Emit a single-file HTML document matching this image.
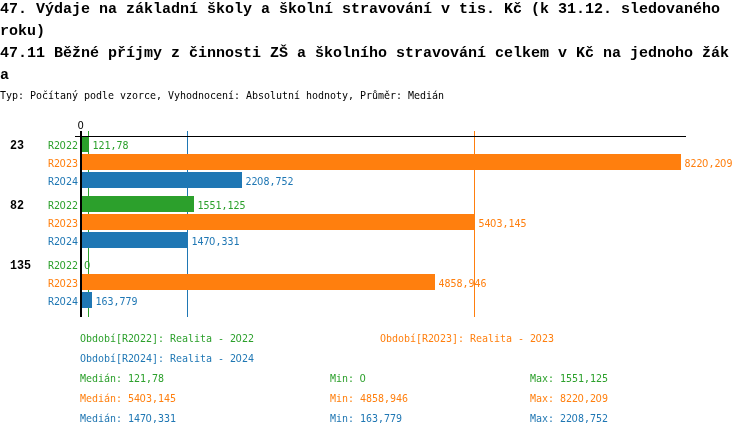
<!DOCTYPE html>
<html lang="cs"><head><meta charset="utf-8"><title>47.11</title>
<style>
html,body{margin:0;padding:0;background:#fff;}
body{width:750px;height:436px;position:relative;overflow:hidden;}
.a{position:absolute;}
.t{position:absolute;left:0;white-space:pre;font:bold 15px/22px "Liberation Mono","DejaVu Sans Mono",monospace;color:#000;letter-spacing:0;}

.s{position:absolute;white-space:pre;font:10px/12px "DejaVu Sans Mono","Liberation Mono",monospace;letter-spacing:-0.02px;transform:scaleY(1.1);transform-origin:0 0;}

.b{position:absolute;white-space:pre;font:bold 11.67px/12px "Liberation Mono","DejaVu Sans Mono",monospace;color:#000;transform:scaleY(1.04);transform-origin:0 0;}
.z{font-family:"DejaVu Sans","Liberation Sans",sans-serif;margin:0 0.279px 0 -0.621px}
.g{color:#2ca02c}.o{color:#ff7f0e}.u{color:#1f77b4}
.bg{background:#2ca02c}.bo{background:#ff7f0e}.bu{background:#1f77b4}
</style></head><body>

<div class="t" style="top:-1px">47. Výdaje na základní školy a školní stravování v tis. Kč (k 31.12. sledovaného</div>
<div class="t" style="top:21px">roku)</div>
<div class="t" style="top:43px">47.11 Běžné příjmy z činnosti ZŠ a školního stravování celkem v Kč na jednoho žák</div>
<div class="t" style="top:65px">a</div>
<div class="s " style="left:0px;top:89.0px">Typ: Počítaný podle vzorce, Vyhodnocení: Absolutní hodnoty, Průměr: Medián</div>
<div class="s " style="left:78px;top:119.0px"><span class="z">0</span></div>
<div class="a bg" style="left:88px;top:131px;width:1px;height:186px"></div>
<div class="a bu" style="left:187px;top:131px;width:1px;height:186px"></div>
<div class="a bo" style="left:474px;top:131px;width:1px;height:186px"></div>
<div class="b" style="left:10px;top:140.0px">23</div>
<div class="a bg" style="left:80px;top:136px;width:9px;height:16px"></div>
<div class="s g" style="right:672px;top:139.0px">R2<span class="z">0</span>22</div>
<div class="s g" style="left:92.5px;top:139.0px">121,78</div>
<div class="a bo" style="left:80px;top:154px;width:601px;height:16px"></div>
<div class="s o" style="right:672px;top:157.0px">R2<span class="z">0</span>23</div>
<div class="s o" style="left:684.5px;top:157.0px">822<span class="z">0</span>,2<span class="z">0</span>9</div>
<div class="a bu" style="left:80px;top:172px;width:162px;height:16px"></div>
<div class="s u" style="right:672px;top:175.0px">R2<span class="z">0</span>24</div>
<div class="s u" style="left:245.5px;top:175.0px">22<span class="z">0</span>8,752</div>
<div class="b" style="left:10px;top:200.0px">82</div>
<div class="a bg" style="left:80px;top:196px;width:114px;height:16px"></div>
<div class="s g" style="right:672px;top:199.0px">R2<span class="z">0</span>22</div>
<div class="s g" style="left:197.5px;top:199.0px">1551,125</div>
<div class="a bo" style="left:80px;top:214px;width:395px;height:16px"></div>
<div class="s o" style="right:672px;top:217.0px">R2<span class="z">0</span>23</div>
<div class="s o" style="left:478.5px;top:217.0px">54<span class="z">0</span>3,145</div>
<div class="a bu" style="left:80px;top:232px;width:108px;height:16px"></div>
<div class="s u" style="right:672px;top:235.0px">R2<span class="z">0</span>24</div>
<div class="s u" style="left:191.5px;top:235.0px">147<span class="z">0</span>,331</div>
<div class="b" style="left:10px;top:260.0px">135</div>
<div class="s g" style="right:672px;top:259.0px">R2<span class="z">0</span>22</div>
<div class="s g" style="left:84.5px;top:259.0px"><span class="z">0</span></div>
<div class="a bo" style="left:80px;top:274px;width:355px;height:16px"></div>
<div class="s o" style="right:672px;top:277.0px">R2<span class="z">0</span>23</div>
<div class="s o" style="left:438.5px;top:277.0px">4858,946</div>
<div class="a bu" style="left:80px;top:292px;width:12px;height:16px"></div>
<div class="s u" style="right:672px;top:295.0px">R2<span class="z">0</span>24</div>
<div class="s u" style="left:95.5px;top:295.0px">163,779</div>
<div class="a" style="left:80px;top:131px;width:2px;height:186px;background:#000"></div>
<div class="a" style="left:75px;top:136px;width:611px;height:1px;background:#000"></div>
<div class="s g" style="left:80px;top:332.0px">Období[R2<span class="z">0</span>22]: Realita - 2<span class="z">0</span>22</div>
<div class="s o" style="left:380px;top:332.0px">Období[R2<span class="z">0</span>23]: Realita - 2<span class="z">0</span>23</div>
<div class="s u" style="left:80px;top:352.0px">Období[R2<span class="z">0</span>24]: Realita - 2<span class="z">0</span>24</div>
<div class="s g" style="left:80px;top:372.0px">Medián: 121,78</div>
<div class="s g" style="left:330px;top:372.0px">Min: <span class="z">0</span></div>
<div class="s g" style="left:530px;top:372.0px">Max: 1551,125</div>
<div class="s o" style="left:80px;top:392.0px">Medián: 54<span class="z">0</span>3,145</div>
<div class="s o" style="left:330px;top:392.0px">Min: 4858,946</div>
<div class="s o" style="left:530px;top:392.0px">Max: 822<span class="z">0</span>,2<span class="z">0</span>9</div>
<div class="s u" style="left:80px;top:412.0px">Medián: 147<span class="z">0</span>,331</div>
<div class="s u" style="left:330px;top:412.0px">Min: 163,779</div>
<div class="s u" style="left:530px;top:412.0px">Max: 22<span class="z">0</span>8,752</div>

</body></html>
